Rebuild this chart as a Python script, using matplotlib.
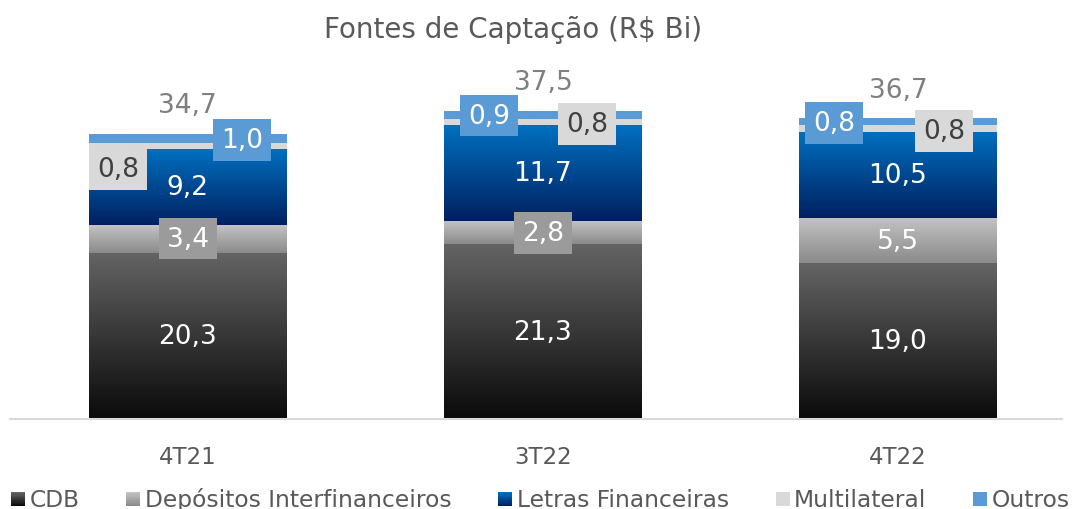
import numpy as np
import matplotlib
matplotlib.use("Agg")
import matplotlib.pyplot as plt
from matplotlib.colors import LinearSegmentedColormap, to_rgb
from matplotlib.patches import Rectangle
from matplotlib.legend_handler import HandlerBase

# --- DATEN ---
periodos = ["4T21", "3T22", "4T22"]
series = ["CDB", "Depósitos Interfinanceiros", "Letras Financeiras", "Multilateral", "Outros"]
cdb = [20.3, 21.3, 19.0]
depositos = [3.4, 2.8, 5.5]
letras = [9.2, 11.7, 10.5]
multilateral = [0.8, 0.8, 0.8]
outros = [1.0, 0.9, 0.8]
totais = [34.7, 37.5, 36.7]

# --- STYLE ---
TXT = "#595959"
# (unten, oben) Verlauf je Serie
GRAD = [
    ("#0a0a0a", "#646464"),
    ("#8a8a8a", "#c3c3c3"),
    ("#002060", "#0070c0"),
    ("#d9d9d9", "#d9d9d9"),
    ("#5b9bd5", "#5b9bd5"),
]
BAR_W = 0.555
FS_LABEL = 19

# Label-Versatz (x relativ zur Balkenmitte, y absolut in Daten) fuer Multilateral/Outros
MULTI_POS = [(-0.197, 30.5), (0.124, 36.0), (0.13, 35.1)]
OUTROS_POS = [(0.152, 34.0), (-0.152, 37.0), (-0.18, 36.1)]


class GradHandler(HandlerBase):
    def __init__(self, c0, c1, n=12):
        super().__init__()
        self.c0, self.c1, self.n = np.array(to_rgb(c0)), np.array(to_rgb(c1)), n

    def create_artists(self, legend, orig_handle, xdescent, ydescent, width, height, fontsize, trans):
        s = height * 0.85
        x0 = -xdescent + width - s
        y0 = -ydescent + (height - s) / 2 - height * 0.08
        arts = []
        for k in range(self.n):
            t = k / (self.n - 1)
            col = self.c0 * (1 - t) + self.c1 * t
            arts.append(Rectangle((x0, y0 + k * s / self.n), s, s / self.n + 0.05,
                                  facecolor=col, edgecolor="none", transform=trans))
        return arts


fig = plt.figure(figsize=(10.72, 5.10), dpi=100)
ax = fig.add_axes([0.0093, 0.1765, 0.9814, 0.7059])

x = np.arange(len(periodos))
valores = [cdb, depositos, letras, multilateral, outros]
bottom = np.zeros(len(periodos))
handles = []
for vals, (c0, c1), name in zip(valores, GRAD, series):
    bars = ax.bar(x, vals, BAR_W, bottom=bottom, color="none", edgecolor="none", label=name)
    cmap = LinearSegmentedColormap.from_list(name, [c0, c1])
    grad = np.linspace(0, 1, 256).reshape(-1, 1)
    for b in bars:
        ax.imshow(grad, cmap=cmap, origin="lower", aspect="auto",
                  extent=(b.get_x(), b.get_x() + b.get_width(), b.get_y(), b.get_y() + b.get_height()),
                  zorder=1)
    handles.append(bars)
    bottom = bottom + np.array(vals)

# Werte-Labels
for i in range(len(periodos)):
    y_cdb = cdb[i] / 2
    ax.text(x[i], y_cdb, f"{cdb[i]:.1f}".replace(".", ","), ha="center", va="center",
            color="white", fontsize=FS_LABEL, zorder=5)
    y_dep = cdb[i] + depositos[i] / 2
    box = dict(boxstyle="square,pad=0.3", fc="#9b9b9b", ec="none") if i < 2 else None
    ax.text(x[i], y_dep, f"{depositos[i]:.1f}".replace(".", ","), ha="center", va="center",
            color="white", fontsize=FS_LABEL, bbox=box, zorder=5)
    y_let = cdb[i] + depositos[i] + letras[i] / 2
    ax.text(x[i], y_let, f"{letras[i]:.1f}".replace(".", ","), ha="center", va="center",
            color="white", fontsize=FS_LABEL, zorder=5)
    dx, yy = MULTI_POS[i]
    ax.text(x[i] + dx, yy, f"{multilateral[i]:.1f}".replace(".", ","), ha="center", va="center",
            color="#404040", fontsize=FS_LABEL, zorder=5,
            bbox=dict(boxstyle="square,pad=0.3", fc="#d9d9d9", ec="none"))
    dx, yy = OUTROS_POS[i]
    ax.text(x[i] + dx, yy, f"{outros[i]:.1f}".replace(".", ","), ha="center", va="center",
            color="white", fontsize=FS_LABEL, zorder=5,
            bbox=dict(boxstyle="square,pad=0.3", fc="#5b9bd5", ec="none"))
    ax.annotate(f"{totais[i]:.1f}".replace(".", ","), (x[i], bottom[i]), xytext=(0, 21),
                textcoords="offset points", ha="center", va="center",
                color="#7f7f7f", fontsize=FS_LABEL, zorder=5)

ax.set_xlim(-0.501, 2.462)
ax.set_ylim(0, 43.9)
ax.set_xticks(x)
ax.set_xticklabels(periodos, fontsize=16.5, color=TXT)
ax.tick_params(axis="x", length=0, pad=19)
ax.set_yticks([])
for s in ["top", "left", "right"]:
    ax.spines[s].set_visible(False)
ax.spines["bottom"].set_color("#d9d9d9")
ax.spines["bottom"].set_linewidth(1.5)

fig.text(0.479, 0.941, "Fontes de Captação (R$ Bi)", ha="center", va="center", fontsize=20, color=TXT)

hmap = {h: GradHandler(c0, c1) for h, (c0, c1) in zip(handles, GRAD)}
fig.legend(handles, series, handler_map=hmap, loc="lower center", bbox_to_anchor=(0.503, -0.045),
           ncol=5, frameon=False, fontsize=16.8, labelcolor=TXT, handlelength=0.7,
           handletextpad=0.2, columnspacing=1.9)

fig.savefig("out.png", dpi=100)
